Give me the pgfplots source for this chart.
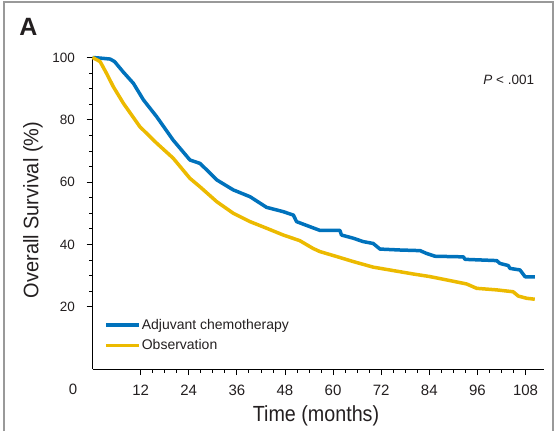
\documentclass[border=0pt]{standalone}
\usepackage{pgfplots}
\pgfplotsset{compat=1.18}
\usepackage{fontspec}
\setmainfont{Liberation Sans}
\newfontfamily\condfont[FakeStretch=0.9]{Liberation Sans}
\newfontfamily\ylabfont[FakeStretch=0.95]{Liberation Sans}
\definecolor{kmblue}{RGB}{0,114,188}
\definecolor{kmyellow}{RGB}{236,186,0}
\definecolor{txt}{RGB}{35,31,32}
\begin{document}
\begin{tikzpicture}
\useasboundingbox (-92.5pt,-62pt) rectangle (463.5pt,369pt);
\draw[black!40, line width=1.2pt] (-88.5pt,-62pt) -- (-88.5pt,367pt) -- (460.5pt,367pt) -- (460.5pt,-62pt);
\begin{axis}[
  at={(0pt,0pt)}, anchor=south west,
  scale only axis, width=451.5pt, height=311.5pt,
  xmin=0, xmax=112.6, ymin=0, ymax=100,
  axis x line=bottom, axis y line=left,
  axis line style={-, line width=1pt, black},
  clip=false,
  /pgf/number format/assume math mode=true,
  xtick={12,24,36,48,60,72,84,96,108},
  ytick={20,40,60,80,100},
  minor x tick num=3, minor y tick num=3,
  tick align=outside,
  major tick length=6pt, minor tick length=3.5pt,
  every tick/.style={black, line width=0.8pt},
  xticklabel style={font=\fontsize{15}{17}\selectfont, text=txt, yshift=-6pt},
  yticklabel style={font=\fontsize{13.5}{16}\selectfont, text=txt, xshift=-8pt},
  legend cell align=left,
  legend style={at={(axis cs:2.9,16.4)}, anchor=north west, draw=none, fill=none,
    inner sep=0pt, font=\fontsize{14}{16}\selectfont, text=txt,
    nodes={inner sep=1pt}, row sep=7pt},
  legend image code/.code={\draw[#1] (0pt,0pt) -- (33pt,0pt);},
]
\addplot[kmblue, line width=3.5pt, line join=round] coordinates {
(0,100) (2,99.8) (4.4,99.5) (5.5,98.7) (7.7,95.3) (10.2,91.7) (12.7,86.4) (16,81)
(20.1,73.5) (24.3,67.1) (26.8,66) (28.5,63.9) (31,60.7) (35.1,57.5) (39.3,55.3)
(43.4,51.9) (47.6,50.5) (50.1,49.4) (50.9,47.3) (54.2,45.7) (56.7,44.5) (61.7,44.5)
(62.1,43) (65,42) (67.5,40.9) (70,40.3) (71.7,38.5) (76.7,38.2) (81.7,38) (83.3,37.1)
(85.4,36.2) (92.5,36) (92.9,35.2) (100.8,34.8) (101.6,33.9) (103.7,33.2) (104.1,32.3)
(106.6,31.8) (107.9,29.6) (110.3,29.6)
};
\addlegendentry{Adjuvant chemotherapy}
\addplot[kmyellow, line width=3.5pt, line join=round] coordinates {
(0,100) (1.9,98.7) (3.5,94.9) (5.2,90.6) (7.7,85.3) (11.8,77.8) (16,72.5) (20.1,67.7)
(24.3,61.2) (26.8,58.5) (31,53.7) (35.1,50) (39.3,47.3) (43.4,45.2) (47.6,43)
(51.7,41.2) (55,38.7) (56.7,37.7) (60.9,36.1) (65,34.5) (70,32.7) (75,31.6) (80,30.5)
(84,29.7) (88.3,28.6) (93.3,27.3) (95.8,25.9) (100.8,25.4) (104.9,24.8) (106.2,23.4)
(108.3,22.7) (110.3,22.4)
};
\addlegendentry{Observation}
\end{axis}
\node[text=txt, inner sep=0pt, font=\fontsize{15}{17}\selectfont] at (-19.5pt,-20pt) {0};
\node[text=txt, inner sep=0pt, font=\bfseries\fontsize{25}{28}\selectfont] at (-64pt,342pt) {A};
\node[text=txt, inner sep=0pt, anchor=east, font=\fontsize{13.5}{16}\selectfont] at (441.8pt,289pt) {\textit{P} < .001};
\node[text=txt, inner sep=0pt, rotate=90, font=\ylabfont\fontsize{21}{24}\selectfont] at (-59.5pt,159pt) {Overall Survival (\%)};
\node[text=txt, inner sep=0pt, font=\condfont\fontsize{21.9}{24}\selectfont] at (223.5pt,-46.5pt) {Time (months)};
\end{tikzpicture}
\end{document}
